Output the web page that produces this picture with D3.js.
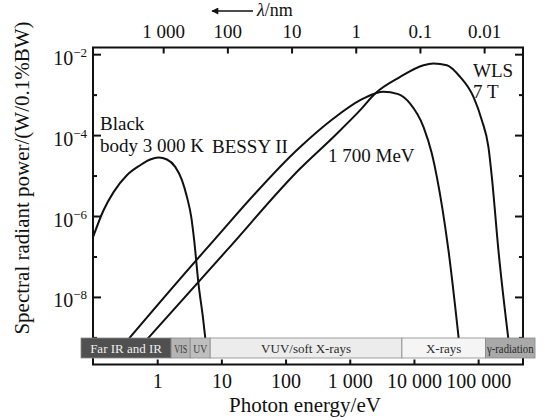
<!DOCTYPE html>
<html>
<head>
<meta charset="utf-8">
<script src="https://cdn.jsdelivr.net/npm/d3@7/dist/d3.min.js"></script>
<style>
  body { margin: 0; background: #fff; }
  text { font-family: "Liberation Serif", "Times New Roman", serif; fill: #111; }
</style>
</head>
<body>
<div id="canvas"></div>
<script>
"use strict"

/* canvas size */
let svgWidth = 545;
let svgHeight = 420;

/* plot frame */
let leftEdge = 93
let rightEdge = 523
let topEdge = 47.5
let bottomEdge = 364.5
let bandTop = 338
let bandBottom = 358

// hc in eV*nm, to put the wavelength axis on top
let hc = 1239.84;

/* tick values */
let energyTicks = [1, 10, 100, 1000, 10000, 100000];
let energyLabels = ["1", "10", "100", "1 000", "10 000", "100 000"];
let lambdaTicks = [1000, 100, 10, 1, 0.1, 0.01];
let lambdaLabels = ["1 000", "100", "10", "1", "0.1", "0.01"];
let powerMajor = [1e-2, 1e-4, 1e-6, 1e-8];
let powerExp = ["\u22122", "\u22124", "\u22126", "\u22128"];
let powerMinor = [1e-3, 1e-5, 1e-7, 1e-9];

/* spectral regions, edges in eV */
let bandNames = ["Far IR and IR", "VIS", "UV", "VUV/soft X-rays", "X-rays", "\u03b3-radiation"];
let bandEdges = [0.065, 1.65, 3.27, 6.7, 6500, 130000, 770000];

/* curves: [photon energy eV, power W/0.1%BW] */
let blackBody = [
    [0.1, 3.0e-7], [0.146, 1.39e-6], [0.209, 3.9e-6], [0.337, 1.02e-5], [0.543, 1.8e-5],
    [0.778, 2.49e-5], [1.05, 2.79e-5], [1.42, 2.49e-5], [1.91, 1.64e-5], [2.43, 7.7e-6],
    [2.9, 3.0e-6], [3.39, 9.5e-7], [3.77, 2.5e-7], [4.4, 2.1e-8], [5.15, 3.2e-9], [5.9, 4.8e-10]
];
let bessy1700 = [
    [0.26, 5.0e-10], [5.59, 1.43e-7], [169, 5.1e-5], [557, 2.57e-4], [1452, 7.3e-4],
    [2489, 1.07e-3], [3311, 1.18e-3], [5675, 1.03e-3], [8720, 6.0e-4], [14070, 1.6e-4],
    [19000, 3.5e-5], [22740, 9.3e-6], [34470, 1.43e-7], [52000, 5.0e-10]
];
let wls7T = [
    [0.5, 5.0e-10], [12.2, 1.43e-7], [169, 1.49e-5], [557, 9.0e-5], [1452, 4.13e-4],
    [2489, 1.07e-3], [6095, 2.75e-3], [14070, 5.35e-3], [20130, 5.89e-3], [32570, 5.35e-3],
    [52440, 2.75e-3], [84550, 8.8e-4], [114200, 2.33e-4], [144600, 5.1e-5], [163400, 9.3e-6],
    [207000, 1.43e-7], [310000, 5.0e-10]
];

let svg = d3.select("#canvas")
    .append("svg")
    .attr("width", svgWidth)
    .attr("height", svgHeight);

svg.append("rect")
    .attr("width", svgWidth)
    .attr("height", svgHeight)
    .attr("fill", "white");

let xScale = d3.scaleLog()
    .domain([0.1, 5e5])
    .range([leftEdge, rightEdge]);

let yScale = d3.scaleLog()
    .domain([Math.pow(10, -9.67), Math.pow(10, -1.835)])
    .range([bottomEdge, topEdge]);

/* clip so the curves stay inside the frame */
svg.append("clipPath")
    .attr("id", "plotClip")
    .append("rect")
    .attr("x", leftEdge)
    .attr("y", topEdge)
    .attr("width", rightEdge - leftEdge)
    .attr("height", bottomEdge - topEdge);

let line = d3.line()
    .x(function (d) { return xScale(d[0]); })
    .y(function (d) { return yScale(d[1]); })
    .curve(d3.curveMonotoneX);

svg.append("g")
    .attr("clip-path", "url(#plotClip)")
    .selectAll("path")
    .data([blackBody, bessy1700, wls7T])
    .join("path")
    .attr("d", line)
    .attr("fill", "none")
    .attr("stroke", "#111")
    .attr("stroke-width", 2);

/* frame */
svg.append("rect")
    .attr("x", leftEdge)
    .attr("y", topEdge)
    .attr("width", rightEdge - leftEdge)
    .attr("height", bottomEdge - topEdge)
    .attr("fill", "none")
    .attr("stroke", "#111")
    .attr("stroke-width", 2);

/* axes, ticks point inwards */
function styleAxis(g) {
    g.select(".domain").remove();
    g.selectAll(".tick line").attr("stroke", "#111").attr("stroke-width", 2);
    g.selectAll(".tick text")
        .attr("fill", "#111")
        .style("font-family", "'Liberation Serif', serif")
        .style("font-size", "20px");
}

svg.append("g")
    .attr("transform", "translate(0," + bottomEdge + ")")
    .call(d3.axisBottom(xScale)
        .tickValues(energyTicks)
        .tickSize(-5)
        .tickPadding(9)
        .tickFormat(function (d, i) { return energyLabels[i]; }))
    .call(styleAxis);

svg.append("g")
    .attr("transform", "translate(0," + topEdge + ")")
    .call(d3.axisTop(xScale)
        .tickValues(lambdaTicks.map(function (l) { return hc / l; }))
        .tickSize(-6)
        .tickPadding(10)
        .tickFormat(function (d, i) { return lambdaLabels[i]; }))
    .call(styleAxis)
    .selectAll(".tick text")
    .style("font-size", "19px");

let leftAxis = svg.append("g")
    .attr("transform", "translate(" + leftEdge + ",0)")
    .call(d3.axisLeft(yScale)
        .tickValues(powerMajor)
        .tickSize(-8)
        .tickPadding(6)
        .tickFormat(""))
    .call(styleAxis);

leftAxis.selectAll(".tick text")
    .attr("dy", "0.5em")
    .each(function (d, i) {
        let t = d3.select(this);
        t.append("tspan").text("10");
        t.append("tspan")
            .attr("dy", -8)
            .style("font-size", "13px")
            .text(powerExp[i]);
    });

svg.append("g")
    .attr("transform", "translate(" + leftEdge + ",0)")
    .call(d3.axisLeft(yScale).tickValues(powerMinor).tickSize(-4).tickFormat(""))
    .call(styleAxis);

svg.append("g")
    .attr("transform", "translate(" + rightEdge + ",0)")
    .call(d3.axisRight(yScale).tickValues(powerMajor).tickSize(-8).tickFormat(""))
    .call(styleAxis);

svg.append("g")
    .attr("transform", "translate(" + rightEdge + ",0)")
    .call(d3.axisRight(yScale).tickValues(powerMinor).tickSize(-4).tickFormat(""))
    .call(styleAxis);

/* spectral region strip */
let bandFill = ["#505050", "#b4b4b4", "#bebebe", "#ececec", "#f5f5f5", "#a9a9a9"];
let bandText = ["#eeeeee", "#3a3a3a", "#3a3a3a", "#2a2a2a", "#2a2a2a", "#2a2a2a"];

let bands = svg.append("g");
bandNames.forEach(function (name, i) {
    let x0 = xScale(bandEdges[i]);
    let x1 = xScale(bandEdges[i + 1]);
    bands.append("rect")
        .attr("x", x0)
        .attr("y", bandTop)
        .attr("width", x1 - x0)
        .attr("height", bandBottom - bandTop)
        .attr("fill", bandFill[i])
        .attr("stroke", "#8a8a8a")
        .attr("stroke-width", 0.8);
    let label = bands.append("text")
        .attr("x", (x0 + x1) / 2)
        .attr("y", bandTop + 14.5)
        .style("text-anchor", "middle")
        .style("font-size", "13px")
        .style("fill", bandText[i])
        .text(name);
    // the narrow cells squeeze their text
    if (i == 1 || i == 2) {
        label.style("font-size", "12px").attr("textLength", x1 - x0 - 6).attr("lengthAdjust", "spacingAndGlyphs");
    }
    if (i == 5) {
        label.attr("textLength", x1 - x0 - 3).attr("lengthAdjust", "spacingAndGlyphs");
    }
});

/* axis titles */
svg.append("text")
    .attr("x", 305)
    .attr("y", 412)
    .style("text-anchor", "middle")
    .style("font-size", "21px")
    .text("Photon energy/eV");

svg.append("text")
    .attr("transform", "translate(29,178) rotate(-90)")
    .style("text-anchor", "middle")
    .style("font-size", "21px")
    .text("Spectral radiant power/(W/0.1%BW)");

/* wavelength arrow on top */
svg.append("defs").append("marker")
    .attr("id", "head")
    .attr("viewBox", "0 0 10 10")
    .attr("refX", 9)
    .attr("refY", 5)
    .attr("markerWidth", 10)
    .attr("markerHeight", 7)
    .attr("markerUnits", "userSpaceOnUse")
    .attr("orient", "auto")
    .append("path")
    .attr("d", "M0,0 L10,5 L0,10 Z")
    .attr("fill", "#111");

svg.append("line")
    .attr("x1", 253)
    .attr("y1", 11)
    .attr("x2", 212)
    .attr("y2", 11)
    .attr("stroke", "#111")
    .attr("stroke-width", 1.6)
    .attr("marker-end", "url(#head)");

let lam = svg.append("text")
    .attr("x", 257)
    .attr("y", 16)
    .style("font-size", "18px");
lam.append("tspan").style("font-style", "italic").text("\u03bb");
lam.append("tspan").text("/nm");

/* curve names */
let notes = [
    ["Black", 100, 130], ["body 3 000 K", 100, 152], ["BESSY II", 212, 153],
    ["1 700 MeV", 328, 162], ["WLS", 473, 77], ["7 T", 473, 98]
];
notes.forEach(function (n) {
    svg.append("text")
        .attr("x", n[1])
        .attr("y", n[2])
        .style("font-size", "19px")
        .text(n[0]);
});
</script>
</body>
</html>
